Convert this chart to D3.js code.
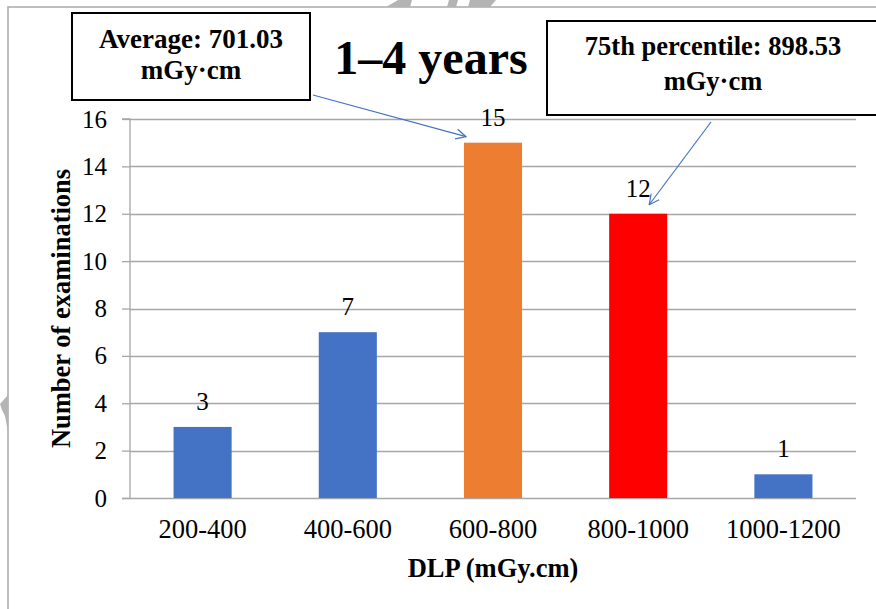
<!DOCTYPE html>
<html>
<head>
<meta charset="utf-8">
<script src="https://cdn.jsdelivr.net/npm/d3@7/dist/d3.min.js"></script>
<style>
  html, body { margin: 0; padding: 0; background: #fff; }
  svg { display: block; }
</style>
</head>
<body>
<svg id="chart" width="876" height="609"></svg>
<script>
// DLP distribution, 1–4 years
const categories = ["200-400", "400-600", "600-800", "800-1000", "1000-1200"];
const counts = [3, 7, 15, 12, 1];
const barColors = ["#4472C4", "#4472C4", "#ED7D31", "#FF0000", "#4472C4"];
const yTicks = [0, 2, 4, 6, 8, 10, 12, 14, 16];
const titleText = "1–4 years";
const xTitle = "DLP (mGy.cm)";
const yTitle = "Number of examinations";
const averageLines = ["Average: 701.03", "mGy·cm"];
const p75Lines = ["75th percentile: 898.53", "mGy·cm"];

const SERIF = "'Liberation Serif', 'Times New Roman', serif";
const svg = d3.select("#chart");
const plot = { left: 130, right: 856, top: 119, bottom: 498 };

const x = d3.scaleBand().domain(categories).range([plot.left, plot.right]).paddingInner(0.6).paddingOuter(0.3);
const y = d3.scaleLinear().domain([0, 16]).range([plot.bottom, plot.top]);

function txt(sel) {
  return sel.style("font-family", SERIF).style("fill", "#000");
}

// page frame
svg.append("path").attr("d", "M8,609 V7 H876").attr("fill", "none").attr("stroke", "#ababab").attr("stroke-width", 1.5);
// faint marks along the frame
const markG = svg.append("g").attr("fill", "#b4b4b4");
markG.append("path").attr("d", "M386,7 L398,0 L412,0 L410,7 Z");
markG.append("path").attr("d", "M447,7 L449,0 L458,0 L456,7 Z");
markG.append("path").attr("d", "M468,7 L470,0 L496,0 L490,7 Z");
markG.append("path").attr("d", "M0,404 L8,395 L8,432 L5,416 L2,410 Z");

// gridlines
svg.append("g").selectAll("line").data(yTicks.filter(d => d > 0)).join("line")
  .attr("x1", plot.left).attr("x2", plot.right)
  .attr("y1", d => Math.round(y(d)) + 0.5).attr("y2", d => Math.round(y(d)) + 0.5)
  .attr("stroke", "#a6a6a6").attr("stroke-width", 1.3);

// y axis
const yAxis = svg.append("g").attr("transform", `translate(${plot.left},0)`)
  .call(d3.axisLeft(y).tickValues(yTicks).tickSize(8).tickPadding(15));
yAxis.attr("font-family", null).attr("font-size", null);
yAxis.select(".domain").attr("stroke", "#a6a6a6").attr("stroke-width", 1.3).attr("d", `M-8,${plot.top}H0V${plot.bottom}`);
yAxis.selectAll(".tick line").attr("stroke", "#a6a6a6").attr("stroke-width", 1.3);
txt(yAxis.selectAll(".tick text")).style("font-size", "25px");

// x axis baseline
svg.append("line").attr("x1", plot.left - 8).attr("x2", plot.right)
  .attr("y1", plot.bottom + 0.5).attr("y2", plot.bottom + 0.5)
  .attr("stroke", "#a6a6a6").attr("stroke-width", 1.5);

// bars
svg.append("g").selectAll("rect").data(categories).join("rect")
  .attr("x", d => x(d)).attr("width", x.bandwidth())
  .attr("y", (d, i) => y(counts[i])).attr("height", (d, i) => y(0) - y(counts[i]))
  .attr("fill", (d, i) => barColors[i]);

// value labels
txt(svg.append("g").selectAll("text").data(categories).join("text"))
  .attr("x", d => x(d) + x.bandwidth() / 2).attr("y", (d, i) => y(counts[i]) - 17)
  .attr("text-anchor", "middle").style("font-size", "25px")
  .text((d, i) => counts[i]);

// category labels
txt(svg.append("g").selectAll("text").data(categories).join("text"))
  .attr("x", d => x(d) + x.bandwidth() / 2).attr("y", 538)
  .attr("text-anchor", "middle").style("font-size", "26.5px")
  .text(d => d);

// axis titles
txt(svg.append("text")).attr("x", (plot.left + plot.right) / 2).attr("y", 577)
  .attr("text-anchor", "middle").style("font-size", "26.5px").style("font-weight", "bold").text(xTitle);
txt(svg.append("text")).attr("transform", `translate(70,${(plot.top + plot.bottom) / 2}) rotate(-90)`)
  .attr("text-anchor", "middle").style("font-size", "26.5px").style("font-weight", "bold").text(yTitle);

// chart title
txt(svg.append("text")).attr("x", 431).attr("y", 74).attr("text-anchor", "middle")
  .style("font-size", "48px").style("font-weight", "bold").text(titleText);

// arrowhead
svg.append("defs").append("marker").attr("id", "arrow")
  .attr("viewBox", "0 0 12 12").attr("refX", 11).attr("refY", 6)
  .attr("markerWidth", 12).attr("markerHeight", 12).attr("markerUnits", "userSpaceOnUse")
  .attr("orient", "auto")
  .append("path").attr("d", "M1,1 L11,6 L1,11").attr("fill", "none").attr("stroke", "#4472C4").attr("stroke-width", 1.2);

// callouts
function callout(box, lines, lineYs, fontSize, arrowFrom, arrowTo) {
  svg.append("rect").attr("x", box[0]).attr("y", box[1]).attr("width", box[2] - box[0]).attr("height", box[3] - box[1])
    .attr("fill", "#fff").attr("stroke", "#000").attr("stroke-width", 2);
  lines.forEach((t, i) => {
    txt(svg.append("text")).attr("x", (box[0] + box[2]) / 2).attr("y", lineYs[i])
      .attr("text-anchor", "middle").style("font-size", fontSize + "px").style("font-weight", "bold").text(t);
  });
  svg.append("line").attr("x1", arrowFrom[0]).attr("y1", arrowFrom[1]).attr("x2", arrowTo[0]).attr("y2", arrowTo[1])
    .attr("stroke", "#4472C4").attr("stroke-width", 1.2).attr("marker-end", "url(#arrow)");
}

const cx3 = x(categories[2]) + x.bandwidth() / 2;
const cx4 = x(categories[3]) + x.bandwidth() / 2;
callout([72, 13, 310, 100], averageLines, [48, 79], 27, [313, 95], [cx3 - 27, y(counts[2]) - 6]);
callout([547, 21, 879, 115], p75Lines, [55, 90], 26.5, [711, 122], [cx4 + 11, y(counts[3]) - 9]);
</script>
</body>
</html>
